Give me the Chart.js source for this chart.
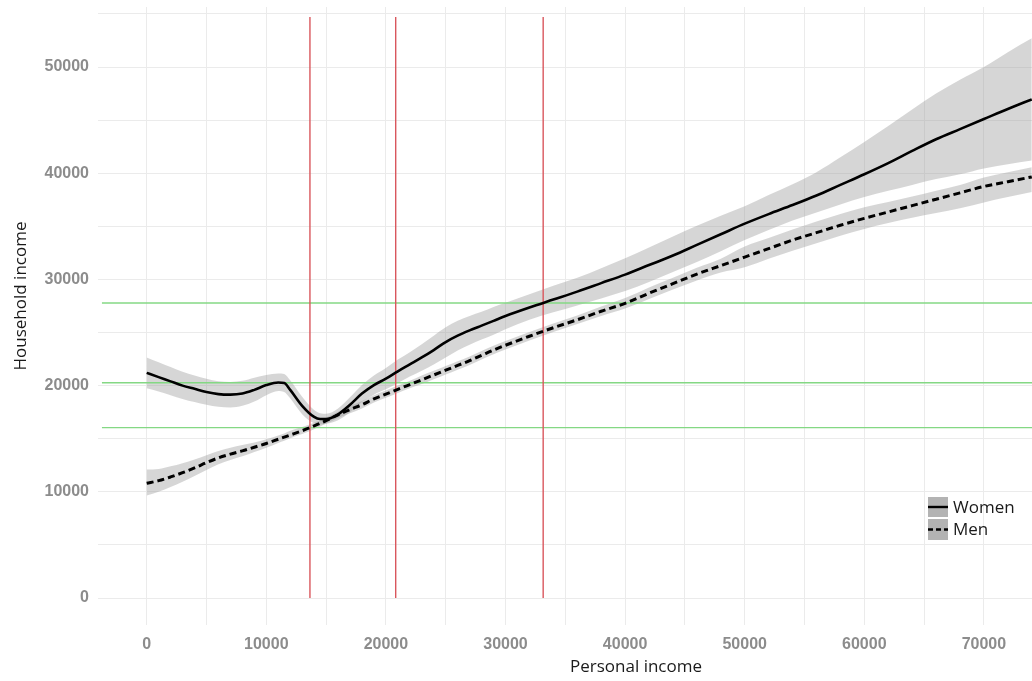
<!DOCTYPE html>
<html>
<head>
<meta charset="utf-8">
<script src="https://cdn.jsdelivr.net/npm/chart.js@4.4.0/dist/chart.umd.min.js"></script>
<style>
  html, body { margin: 0; padding: 0; background: #ffffff; }
  #wrap { position: relative; width: 1032px; height: 681px; }
</style>
</head>
<body>
<div id="wrap"><canvas id="c" width="1032" height="681"></canvas></div>
<script>
// ---- data ----
const xValues = [0,1000,2000,3000,4000,5000,6000,7000,8000,9000,10000,11000,11500,12000,13000,14000,14500,15000,16000,17000,18000,19000,20000,21000,22000,23000,24000,25000,26000,27000,28000,29000,30000,32000,34000,36000,38000,40000,42000,44000,46000,48000,50000,52000,54000,56000,58000,60000,62000,64000,66000,68000,70000,72000,74000];

const womenFit = [21200,20800,20400,20000,19700,19400,19200,19150,19250,19600,20050,20300,20250,19600,18100,17050,16850,16850,17300,18200,19250,20050,20650,21350,22000,22650,23350,24100,24700,25200,25650,26100,26550,27350,28100,28850,29650,30450,31350,32250,33250,34250,35250,36150,37000,37900,38900,39900,40950,42100,43200,44150,45100,46050,46950];
const womenLow = [19750,19450,19100,18750,18450,18200,18000,17950,18100,18500,19100,19500,19400,18800,17300,16450,16350,16400,16750,17500,18450,19150,19650,20250,20850,21400,22000,22650,23300,23850,24350,24800,25300,26200,26900,27550,28200,28900,29750,30700,31650,32650,33700,34650,35550,36300,37050,37750,38350,38900,39450,39900,40450,40850,41190];
const womenHigh = [22650,22200,21750,21300,20950,20650,20400,20350,20450,20750,21000,21150,21100,20500,18950,17700,17400,17350,17850,18900,20050,20950,21650,22450,23150,23900,24700,25500,26100,26550,26950,27400,27800,28600,29400,30150,31050,32000,33000,34050,35050,36000,36900,37950,38950,40100,41500,42950,44450,46000,47500,48800,50000,51400,52700];

const menFit = [10800,11050,11400,11800,12250,12750,13200,13550,13850,14200,14550,14950,15150,15350,15750,16200,16450,16700,17250,17750,18200,18750,19200,19650,20100,20550,21000,21450,21900,22350,22850,23350,23800,24650,25450,26200,27000,27750,28700,29600,30500,31300,32100,32900,33700,34400,35100,35750,36350,36950,37550,38150,38750,39200,39650];
const menLow = [9650,10000,10450,10950,11500,12050,12600,13000,13350,13750,14150,14600,14800,15050,15450,15900,16150,16400,16950,17400,17850,18400,18850,19300,19750,20150,20600,21050,21500,21950,22450,22950,23400,24250,25050,25800,26550,27250,28150,29050,29900,30650,31150,31950,32700,33400,34100,34750,35300,35800,36250,36700,37250,37750,38220];
const menHigh = [12100,12150,12400,12700,13050,13450,13850,14150,14400,14650,14950,15300,15500,15750,16100,16500,16750,17000,17550,18100,18550,19100,19550,20000,20450,20950,21400,21850,22300,22750,23250,23750,24200,25050,25850,26600,27450,28250,29250,30150,31100,31950,33100,33900,34700,35450,36150,36800,37300,37800,38350,38900,39600,40100,40560];

// reference lines
const verticalCuts = [13650, 20820, 33150];   // personal income
const horizontalCuts = [27780, 20270, 16040]; // household income
const verticalTop = 54700;
const horizontalStart = -3740;
const horizontalEnd = 80000;

// ticks
const xTickValues = [0,5000,10000,15000,20000,25000,30000,35000,40000,45000,50000,55000,60000,65000,70000];
const yTickValues = [0,5000,10000,15000,20000,25000,30000,35000,40000,45000,50000,55000];
const seriesLabels = ['Women', 'Men'];
const xTitle = 'Personal income';
const yTitle = 'Household income';

// ---- build datasets ----
const pts = (xs, ys) => xs.map((x, i) => ({x: x, y: ys[i]}));
const bandFill = 'rgba(153,153,153,0.4)';

const datasets = [];
// black fitted lines on top (lowest order)
datasets.push({label: seriesLabels[0], data: pts(xValues, womenFit), borderColor: '#000000', borderWidth: 2.6, pointRadius: 0, fill: false, cubicInterpolationMode: 'monotone', order: 1});
datasets.push({label: seriesLabels[1], data: pts(xValues, menFit), borderColor: '#000000', borderWidth: 3, borderDash: [7, 4], pointRadius: 0, fill: false, cubicInterpolationMode: 'monotone', order: 1});
// reference lines
verticalCuts.forEach(v => datasets.push({label: 'v', data: [{x: v, y: 0}, {x: v, y: verticalTop}], borderColor: '#d9575d', borderWidth: 1.4, pointRadius: 0, fill: false, order: 2}));
horizontalCuts.forEach(h => datasets.push({label: 'h', data: [{x: horizontalStart, y: h}, {x: horizontalEnd, y: h}], borderColor: '#84d884', borderWidth: 1.4, pointRadius: 0, fill: false, order: 2}));
// bands
const bandStart = datasets.length;
datasets.push({label: 'wHi', data: pts(xValues, womenHigh), borderWidth: 0, borderColor: 'rgba(0,0,0,0)', pointRadius: 0, fill: {target: bandStart + 1}, backgroundColor: bandFill, cubicInterpolationMode: 'monotone', order: 3});
datasets.push({label: 'wLo', data: pts(xValues, womenLow), borderWidth: 0, borderColor: 'rgba(0,0,0,0)', pointRadius: 0, fill: false, cubicInterpolationMode: 'monotone', order: 3});
datasets.push({label: 'mHi', data: pts(xValues, menHigh), borderWidth: 0, borderColor: 'rgba(0,0,0,0)', pointRadius: 0, fill: {target: bandStart + 3}, backgroundColor: bandFill, cubicInterpolationMode: 'monotone', order: 3});
datasets.push({label: 'mLo', data: pts(xValues, menLow), borderWidth: 0, borderColor: 'rgba(0,0,0,0)', pointRadius: 0, fill: false, cubicInterpolationMode: 'monotone', order: 3});

// ---- custom drawing: axis titles and inside legend ----
const extrasPlugin = {
  id: 'extras',
  afterDraw(chart) {
    const ctx = chart.ctx;
    ctx.save();
    // axis titles
    ctx.fillStyle = '#1a1a1a';
    ctx.font = '17px "Open Sans", "Noto Sans", sans-serif';
    ctx.textAlign = 'center';
    ctx.textBaseline = 'middle';
    ctx.fillText(xTitle, 636, 667);
    ctx.save();
    ctx.translate(21, 296);
    ctx.rotate(-Math.PI / 2);
    ctx.fillText(yTitle, 0, 0);
    ctx.restore();

    // legend
    const kx = 928, kw = 20;
    const rows = [{y: 497, h: 20, dash: []}, {y: 519, h: 21, dash: [5, 3]}];
    rows.forEach((r, i) => {
      ctx.fillStyle = '#b3b3b3';
      ctx.fillRect(kx, r.y, kw, r.h);
      ctx.strokeStyle = '#000000';
      ctx.lineWidth = 2.4;
      ctx.setLineDash(r.dash);
      ctx.beginPath();
      ctx.moveTo(kx, r.y + r.h / 2);
      ctx.lineTo(kx + kw, r.y + r.h / 2);
      ctx.stroke();
      ctx.setLineDash([]);
      ctx.fillStyle = '#1a1a1a';
      ctx.font = '17px "Open Sans", "Noto Sans", sans-serif';
      ctx.textAlign = 'left';
      ctx.textBaseline = 'middle';
      ctx.fillText(seriesLabels[i], 953, r.y + r.h / 2 + 1);
    });
    ctx.restore();
  }
};

const gridColor = '#ebebeb';
const tickFont = {family: '"Liberation Sans", Arial, sans-serif', size: 16, weight: 'bold'};
const tickColor = '#8c8c8c';

new Chart(document.getElementById('c'), {
  type: 'line',
  data: {datasets: datasets},
  options: {
    responsive: false,
    animation: false,
    layout: {padding: {top: 7, left: 0, right: 0, bottom: 0}},
    plugins: {legend: {display: false}, tooltip: {enabled: false}},
    elements: {line: {borderCapStyle: 'butt'}},
    scales: {
      x: {
        type: 'linear',
        min: -4070,
        max: 74020,
        afterBuildTicks: s => { s.ticks = xTickValues.map(v => ({value: v})); },
        afterFit: s => { s.height = 56; s.paddingLeft = 0; s.paddingRight = 0; },
        grid: {color: gridColor, lineWidth: 1, drawTicks: false},
        border: {display: false},
        ticks: {
          autoSkip: false, maxRotation: 0, padding: 10,
          font: tickFont, color: tickColor,
          callback: v => (v % 10000 === 0 ? String(v) : '')
        }
      },
      y: {
        type: 'linear',
        min: -2540,
        max: 55650,
        afterBuildTicks: s => { s.ticks = yTickValues.map(v => ({value: v})); },
        afterFit: s => { s.width = 98; s.paddingTop = 0; s.paddingBottom = 0; },
        grid: {color: gridColor, lineWidth: 1, drawTicks: false},
        border: {display: false},
        ticks: {
          autoSkip: false, padding: 9,
          font: tickFont, color: tickColor,
          callback: v => (v % 10000 === 0 && v <= 50000 ? String(v) : '')
        }
      }
    }
  },
  plugins: [extrasPlugin]
});
</script>
</body>
</html>
